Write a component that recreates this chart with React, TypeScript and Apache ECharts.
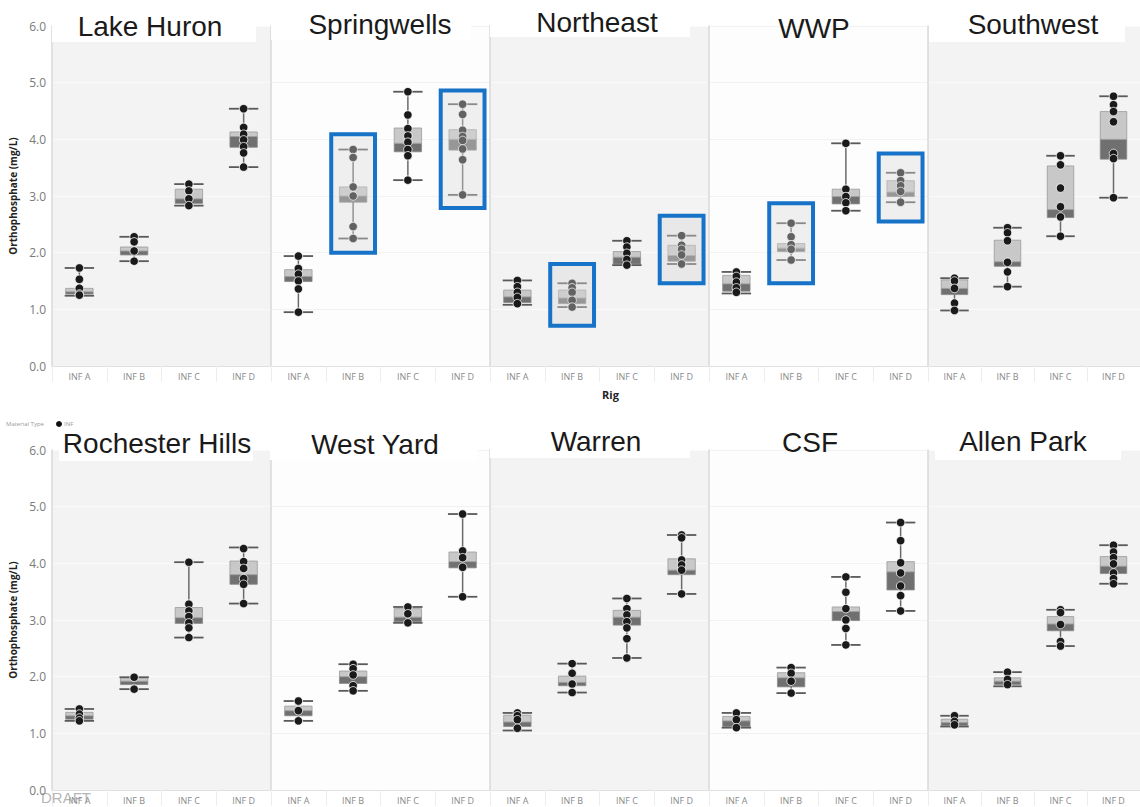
import React, { useEffect, useRef } from "react";
import * as echarts from "echarts";

// ---------- DATA ----------
const categories = ["INF A", "INF B", "INF C", "INF D"];
const yAxisTitle = "Orthophosphate (mg/L)";
const xAxisTitle = "Rig";
const siteNames = [
  "Lake Huron", "Springwells", "Northeast", "WWP", "Southwest",
  "Rochester Hills", "West Yard", "Warren", "CSF", "Allen Park",
];

// box stats per rig: [min, q1, median, q3, max]
const lakeHuronStats = [[1.24, 1.27, 1.31, 1.37, 1.73], [1.85, 1.96, 2.03, 2.10, 2.28], [2.83, 2.87, 2.95, 3.12, 3.21], [3.51, 3.86, 4.05, 4.13, 4.54]];
const lakeHuronPoints = [[1.73, 1.53, 1.37, 1.27, 1.25], [2.28, 2.19, 2.03, 1.85], [3.21, 3.09, 2.95, 2.83], [4.54, 4.21, 4.09, 3.99, 3.87, 3.76, 3.51]];

const springwellsStats = [[0.95, 1.49, 1.58, 1.70, 1.94], [2.25, 2.89, 3.00, 3.16, 3.82], [3.28, 3.78, 3.93, 4.20, 4.84], [3.02, 3.81, 4.00, 4.17, 4.62]];
const springwellsPoints = [[1.94, 1.72, 1.62, 1.50, 1.36, 0.95], [3.82, 3.68, 3.16, 3.00, 2.46, 2.25], [4.84, 4.43, 4.19, 4.06, 3.95, 3.82, 3.71, 3.28], [4.62, 4.44, 4.16, 4.05, 3.98, 3.83, 3.64, 3.02]];
const springwellsHighlight = [[1, 2.00, 4.09], [3, 2.79, 4.86]];

const northeastStats = [[1.08, 1.12, 1.22, 1.34, 1.51], [1.04, 1.10, 1.20, 1.34, 1.46], [1.78, 1.80, 1.92, 2.02, 2.21], [1.80, 1.85, 1.95, 2.13, 2.30]];
const northeastPoints = [[1.51, 1.40, 1.30, 1.21, 1.10], [1.46, 1.38, 1.30, 1.16, 1.04], [2.21, 2.10, 1.99, 1.88, 1.78], [2.30, 2.13, 2.06, 1.96, 1.80]];
const northeastHighlight = [[1, 0.71, 1.80], [3, 1.46, 2.65]];

const wwpStats = [[1.28, 1.32, 1.45, 1.60, 1.66], [1.87, 2.02, 2.08, 2.16, 2.52], [2.74, 2.86, 2.99, 3.12, 3.93], [2.89, 2.99, 3.07, 3.27, 3.41]];
const wwpPoints = [[1.66, 1.58, 1.48, 1.38, 1.30], [2.52, 2.28, 2.14, 2.06, 1.87], [3.93, 3.12, 2.99, 2.88, 2.74], [3.41, 3.27, 3.18, 3.08, 2.89]];
const wwpHighlight = [[1, 1.46, 2.87], [3, 2.55, 3.75]];

const southwestStats = [[0.98, 1.26, 1.37, 1.52, 1.55], [1.40, 1.76, 1.84, 2.22, 2.44], [2.29, 2.62, 2.76, 3.53, 3.71], [2.97, 3.65, 4.00, 4.49, 4.76]];
const southwestPoints = [[1.55, 1.50, 1.37, 1.11, 0.98], [2.44, 2.35, 2.21, 1.83, 1.66, 1.40], [3.71, 3.55, 3.14, 2.81, 2.63, 2.29], [4.76, 4.61, 4.49, 4.31, 3.75, 3.66, 2.97]];

const rochesterStats = [[1.22, 1.25, 1.31, 1.37, 1.43], [1.78, 1.86, 1.92, 1.98, 1.99], [2.69, 2.94, 3.04, 3.22, 4.02], [3.29, 3.63, 3.80, 4.04, 4.28]];
const rochesterPoints = [[1.43, 1.34, 1.27, 1.22], [1.99, 1.78], [4.02, 3.28, 3.16, 3.06, 2.95, 2.86, 2.69], [4.26, 4.03, 3.91, 3.73, 3.63, 3.29]];

const westYardStats = [[1.22, 1.31, 1.40, 1.48, 1.57], [1.75, 1.88, 2.00, 2.10, 2.22], [2.95, 2.97, 3.05, 3.20, 3.23], [3.41, 3.92, 4.03, 4.20, 4.87]];
const westYardPoints = [[1.57, 1.40, 1.22], [2.22, 2.14, 2.03, 1.84, 1.75], [3.23, 3.11, 2.95], [4.87, 4.22, 4.10, 3.93, 3.41]];

const warrenStats = [[1.05, 1.12, 1.20, 1.32, 1.36], [1.72, 1.84, 1.90, 2.01, 2.23], [2.33, 2.91, 3.05, 3.17, 3.38], [3.46, 3.80, 3.88, 4.08, 4.50]];
const warrenPoints = [[1.36, 1.31, 1.24, 1.09], [2.23, 2.06, 1.87, 1.72], [3.38, 3.20, 3.09, 2.97, 2.86, 2.67, 2.33], [4.50, 4.45, 4.06, 3.97, 3.88, 3.46]];

const csfStats = [[1.10, 1.12, 1.22, 1.30, 1.36], [1.71, 1.82, 1.98, 2.07, 2.16], [2.56, 2.99, 3.15, 3.23, 3.76], [3.16, 3.53, 3.85, 4.03, 4.72]];
const csfPoints = [[1.36, 1.24, 1.10], [2.16, 2.06, 1.92, 1.71], [3.76, 3.49, 3.20, 3.00, 2.85, 2.56], [4.72, 4.40, 4.01, 3.83, 3.60, 3.43, 3.16]];

const allenParkStats = [[1.12, 1.14, 1.19, 1.25, 1.31], [1.83, 1.86, 1.92, 1.98, 2.08], [2.54, 2.81, 2.93, 3.06, 3.18], [3.64, 3.82, 3.95, 4.12, 4.32]];
const allenParkPoints = [[1.31, 1.21, 1.15], [2.08, 1.95, 1.86], [3.18, 3.13, 2.92, 2.62, 2.54], [4.32, 4.20, 4.10, 3.99, 3.83, 3.73, 3.64]];

const allStats = [lakeHuronStats, springwellsStats, northeastStats, wwpStats, southwestStats, rochesterStats, westYardStats, warrenStats, csfStats, allenParkStats];
const allPoints = [lakeHuronPoints, springwellsPoints, northeastPoints, wwpPoints, southwestPoints, rochesterPoints, westYardPoints, warrenPoints, csfPoints, allenParkPoints];
const allHighlights: number[][][] = [[], springwellsHighlight, northeastHighlight, wwpHighlight, [], [], [], [], [], []];

// ---------- LAYOUT ----------
const W = 1140;
const H = 807;
const panelLefts = [52, 271, 490, 709, 928];
const panelWidth = 219;
const rowTops = [26, 450];
const panelHeight = 340;
const titleCenters = [
  [150, 26], [380, 24], [597, 22], [814, 28], [1033, 24],
  [157, 443], [375, 444], [596, 441], [810, 442], [1023, 441],
];
const titleBoxes = [
  [52, 0, 204, 42], [271, 0, 200, 40], [490, 0, 200, 37], null, [929, 0, 196, 42],
  [59, 420, 194, 41], [270, 420, 208, 40], [490, 420, 200, 38], null, [935, 420, 186, 40],
];

function renderBox(params: any, api: any) {
  const idx = api.value(0);
  const pMin = api.coord([idx, api.value(1)]);
  const pQ1 = api.coord([idx, api.value(2)]);
  const pMed = api.coord([idx, api.value(3)]);
  const pQ3 = api.coord([idx, api.value(4)]);
  const pMax = api.coord([idx, api.value(5)]);
  const band = api.size([1, 0])[0];
  const w = band * 0.5;
  const cx = pMin[0];
  return {
    type: "group",
    children: [
      { type: "line", shape: { x1: cx, y1: pMax[1], x2: cx, y2: pMin[1] }, style: { stroke: "#6a6a6a", lineWidth: 1.5 } },
      { type: "rect", shape: { x: cx - w / 2, y: pMed[1], width: w, height: Math.max(pQ1[1] - pMed[1], 1) }, style: { fill: "#707070", stroke: "#8a8a8a", lineWidth: 0.8 } },
      { type: "rect", shape: { x: cx - w / 2, y: pQ3[1], width: w, height: Math.max(pMed[1] - pQ3[1], 1) }, style: { fill: "#c8c8c8", stroke: "#9a9a9a", lineWidth: 0.8 } },
      { type: "line", shape: { x1: cx - w / 2 - 1, y1: pMax[1], x2: cx + w / 2 + 1, y2: pMax[1] }, style: { stroke: "#5a5a5a", lineWidth: 1.8 } },
      { type: "line", shape: { x1: cx - w / 2 - 1, y1: pMin[1], x2: cx + w / 2 + 1, y2: pMin[1] }, style: { stroke: "#5a5a5a", lineWidth: 1.8 } },
    ],
  };
}

function renderHighlight(params: any, api: any) {
  const idx = api.value(0);
  const pLo = api.coord([idx, api.value(1)]);
  const pHi = api.coord([idx, api.value(2)]);
  const band = api.size([1, 0])[0];
  const w = band * 0.8;
  return {
    type: "rect",
    shape: { x: pLo[0] - w / 2, y: pHi[1], width: w, height: pLo[1] - pHi[1] },
    style: { fill: "rgba(215,215,215,0.38)", stroke: "#1673c8", lineWidth: 4 },
  };
}

function buildOption() {
  const grid: any[] = [];
  const xAxis: any[] = [];
  const yAxis: any[] = [];
  const series: any[] = [];
  for (let i = 0; i < siteNames.length; i++) {
    const row = Math.floor(i / 5);
    const col = i % 5;
    const gray = col % 2 === 0;
    grid.push({
      left: panelLefts[col], top: rowTops[row], width: panelWidth, height: panelHeight,
      show: true, backgroundColor: gray ? "#f3f3f3" : "#fdfdfd", borderWidth: 0,
    });
    xAxis.push({
      type: "category", gridIndex: i, data: categories,
      axisLine: { show: true, lineStyle: { color: "#e0e0e0", width: 1 } },
      axisTick: { show: true, length: 16, lineStyle: { color: "#ededed" } },
      axisLabel: { fontSize: 9, color: "#8a8a8a", margin: 6, fontFamily: "Open Sans" },
      splitLine: { show: false },
      name: i === 2 ? xAxisTitle : "",
      nameLocation: "middle",
      nameGap: 23,
      nameTextStyle: { fontSize: 11, fontWeight: "bold", color: "#222", fontFamily: "Open Sans", padding: [0, 0, 0, 22] },
    });
    yAxis.push({
      type: "value", gridIndex: i, min: 0, max: 6, interval: 1,
      axisLine: { show: true, lineStyle: { color: "#d8d8d8", width: 1.5 } },
      axisTick: { show: false },
      axisLabel: {
        show: col === 0, fontSize: 12, color: "#7a7a7a", margin: 6, fontFamily: "Open Sans",
        formatter: (v: number) => v.toFixed(1),
      },
      splitLine: { show: true, lineStyle: { color: gray ? "#fafafa" : "#f2f2f2", width: 1 } },
      name: col === 0 ? yAxisTitle : "",
      nameLocation: "middle",
      nameGap: 34,
      nameTextStyle: { fontSize: 10, fontWeight: "bold", color: "#222", fontFamily: "Open Sans" },
    });
    const stats = allStats[i];
    series.push({
      type: "custom", xAxisIndex: i, yAxisIndex: i, z: 2,
      renderItem: renderBox,
      encode: { x: 0, y: [1, 2, 3, 4, 5] },
      data: stats.map((s, k) => [k, ...s]),
      silent: true,
    });
    const pts: number[][] = [];
    allPoints[i].forEach((arr, k) => arr.forEach((v) => pts.push([k, v])));
    series.push({
      type: "scatter", xAxisIndex: i, yAxisIndex: i, z: 3,
      symbolSize: 8.5, data: pts,
      itemStyle: { color: "#1a1a1a", borderColor: "#ffffff", borderWidth: 0.8, opacity: 1 },
      silent: true,
    });
    if (allHighlights[i].length) {
      series.push({
        type: "custom", xAxisIndex: i, yAxisIndex: i, z: 4,
        renderItem: renderHighlight,
        encode: { x: 0, y: [1, 2] },
        data: allHighlights[i],
        silent: true,
      });
    }
  }

  const graphic: any[] = [];
  titleBoxes.forEach((b) => {
    if (!b) return;
    graphic.push({ type: "rect", z: 100, shape: { x: b[0], y: b[1], width: b[2], height: b[3] }, style: { fill: "#ffffff" }, silent: true });
  });
  siteNames.forEach((name, i) => {
    graphic.push({
      type: "text", z: 101, x: titleCenters[i][0], y: titleCenters[i][1],
      style: { text: name, fontSize: 28, fontFamily: "Liberation Sans, Arial", fill: "#1a1a1a", align: "center", verticalAlign: "middle" },
      silent: true,
    });
  });
  graphic.push({ type: "text", z: 101, x: 6, y: 424, style: { text: "Material Type", fontSize: 6, fontFamily: "Open Sans", fill: "#9a9a9a", align: "left", verticalAlign: "middle" } });
  graphic.push({ type: "circle", z: 101, shape: { cx: 59, cy: 424, r: 3 }, style: { fill: "#111" } });
  graphic.push({ type: "text", z: 101, x: 64, y: 424, style: { text: "INF", fontSize: 6, fontFamily: "Open Sans", fill: "#9a9a9a", align: "left", verticalAlign: "middle" } });
  graphic.push({ type: "text", z: 101, x: 41, y: 797, style: { text: "DRAFT", fontSize: 15, fontFamily: "Liberation Sans, Arial", fill: "rgba(150,150,150,0.7)", align: "left", verticalAlign: "middle" } });

  return { animation: false, backgroundColor: "#ffffff", grid, xAxis, yAxis, series, graphic };
}

export default function App() {
  const ref = useRef<HTMLDivElement>(null);
  useEffect(() => {
    if (!ref.current) return;
    const chart = echarts.init(ref.current, undefined, { renderer: "svg" });
    chart.setOption(buildOption() as any);
    return () => chart.dispose();
  }, []);
  return <div ref={ref} style={{ position: "fixed", left: 0, top: 0, width: W, height: H }} />;
}
